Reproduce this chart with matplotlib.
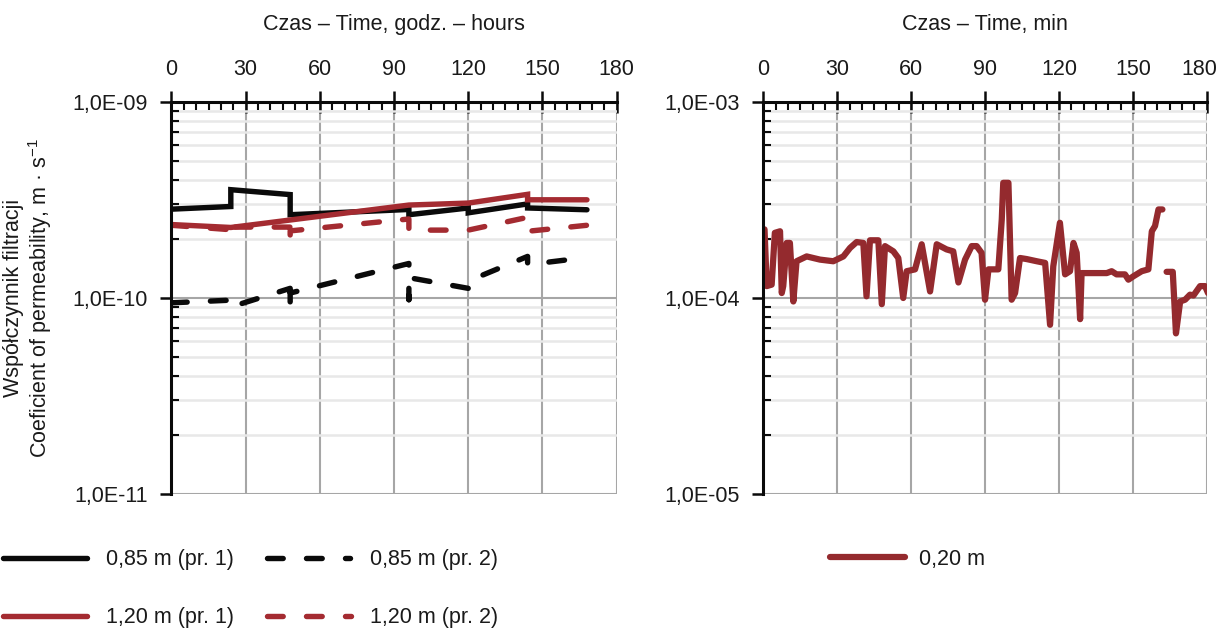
import matplotlib

matplotlib.use("Agg")
import matplotlib.pyplot as plt
import numpy as np
from matplotlib.ticker import FuncFormatter, LogLocator, MultipleLocator, NullFormatter
from matplotlib.transforms import ScaledTranslation

plt.rcParams["font.family"] = ["Liberation Sans", "DejaVu Sans"]
plt.rcParams["mathtext.default"] = "regular"

# --- left chart: permeability vs time in hours ---
hours_085_1 = [0, 24, 24, 48, 48, 96, 96, 120, 120, 144, 144, 168]
k_085_1 = [2.84e-10, 2.93e-10, 3.57e-10, 3.37e-10, 2.66e-10, 2.83e-10,
           2.66e-10, 2.88e-10, 2.72e-10, 3.02e-10, 2.88e-10, 2.82e-10]

hours_085_2 = [0, 24, 24, 48, 48, 48, 96, 96, 96, 120, 120, 144, 144, 168]
k_085_2 = [9.45e-11, 9.75e-11, 9.0e-11, 1.12e-10, 8.8e-11, 1.06e-10, 1.5e-10,
           9.8e-11, 1.27e-10, 1.12e-10, 1.22e-10, 1.63e-10, 1.48e-10, 1.61e-10]

hours_120_1 = [0, 24, 96, 120, 144, 144, 168]
k_120_1 = [2.37e-10, 2.29e-10, 2.98e-10, 3.05e-10, 3.38e-10, 3.17e-10, 3.17e-10]

hours_120_2 = [0, 24, 24, 24, 48, 48, 48, 48, 96, 96, 120, 144, 144, 168]
k_120_2 = [2.35e-10, 2.23e-10, 2.46e-10, 2.3e-10, 2.3e-10, 2.47e-10, 2.06e-10,
           2.2e-10, 2.53e-10, 2.22e-10, 2.22e-10, 2.58e-10, 2.19e-10, 2.35e-10]

# --- right chart: permeability vs time in minutes (0,20 m) ---
min_020 = [0.5, 1.4, 3.4, 4.7, 6.8, 7.5, 8.1, 9.5, 10.8, 12.2, 13.5, 17.6, 23.0,
           28.4, 32.5, 35.2, 37.9, 40.6, 41.9, 43.3, 46.7, 48.1, 49.4, 52.8,
           54.8, 56.8, 58.2, 61.6, 64.3, 67.7, 70.4, 74.4, 77.1, 79.2, 81.9,
           84.6, 86.6, 88.6, 90.0, 91.4, 95.4, 96.8, 97.4, 99.5, 100.8, 102.2,
           104.2, 106.9, 111.0, 114.4, 116.4, 117.7, 120.4, 122.5, 124.5, 125.9,
           127.2, 128.6, 129.2, 131.3, 139.4, 141.4, 143.4, 146.8, 148.2, 150.2,
           153.6, 156.3, 157.7, 159.0, 160.4, 162.0, np.nan, 163.7, 166.2, 167.5,
           169.2, 171.2, 173.2, 174.6, 177.3, 179.3, 180.5]
k_020 = [2.24, 1.15, 1.17, 2.15, 2.19, 1.06, 1.15, 1.91, 1.91, 0.96, 1.54, 1.63,
         1.57, 1.54, 1.63, 1.80, 1.93, 1.91, 1.02, 1.97, 1.97, 0.93, 1.84, 1.73,
         1.60, 1.00, 1.37, 1.40, 1.88, 1.08, 1.88, 1.77, 1.73, 1.20, 1.57, 1.84,
         1.84, 1.70, 0.98, 1.40, 1.40, 2.52, 3.87, 3.87, 0.98, 1.06, 1.60, 1.58,
         1.54, 1.51, 0.73, 1.45, 2.42, 1.32, 1.37, 1.91, 1.70, 0.78, 1.34, 1.34,
         1.34, 1.37, 1.32, 1.32, 1.24, 1.29, 1.37, 1.40, 2.19, 2.33, 2.83, 2.83,
         np.nan, 1.36, 1.36, 0.66, 0.96, 0.98, 1.04, 1.03, 1.15, 1.15, 1.06]
k_020 = [v * 1e-4 for v in k_020]

x_ticks = list(range(0, 181, 30))

BLACK = "#0a0a0a"
RED = "#a42b31"
RED_DARK = "#942a2e"
TXT = "#1a1a1a"
FS = 15.5


def sci_label(val, pos):
    e = int(round(np.log10(val)))
    return f"1,0E-{abs(e):02d}"


def style_axis(ax, ymin, ymax, xlabel):
    ax.set_yscale("log")
    ax.set_ylim(ymin, ymax)
    ax.set_xlim(0, 180)
    ax.xaxis.tick_top()
    ax.xaxis.set_label_position("top")
    ax.set_xticks(x_ticks)
    ax.xaxis.set_minor_locator(MultipleLocator(5))
    ax.yaxis.set_major_locator(LogLocator(base=10))
    ax.yaxis.set_minor_locator(LogLocator(base=10, subs=np.arange(2, 10)))
    ax.yaxis.set_major_formatter(FuncFormatter(sci_label))
    ax.yaxis.set_minor_formatter(NullFormatter())
    ax.tick_params(axis="x", which="major", direction="inout", length=16,
                   width=1.8, pad=8, labelsize=FS, colors=BLACK, labelcolor=TXT)
    ax.tick_params(axis="x", which="minor", direction="in", length=5.5,
                   width=1.5, colors=BLACK)
    ax.tick_params(axis="y", which="major", direction="out", length=8,
                   width=1.8, pad=9, labelsize=FS, colors=BLACK, labelcolor=TXT)
    ax.tick_params(axis="y", which="minor", direction="in", length=6,
                   width=1.5, colors=BLACK)
    ax.grid(True, which="major", axis="both", color="#a6a6a6", lw=1.5)
    ax.grid(True, which="minor", axis="y", color="#e8e8e8", lw=1.8)
    ax.set_axisbelow(True)
    for side in ("right", "bottom"):
        ax.spines[side].set_visible(False)
    for side in ("left", "top"):
        ax.spines[side].set_linewidth(2.2)
        ax.spines[side].set_color(BLACK)
    ax.set_xlabel(xlabel, fontsize=FS, color=TXT, labelpad=21)


fig = plt.figure(figsize=(12.16, 6.36), dpi=100)
ax1 = fig.add_axes([0.1410, 0.2233, 0.5071 - 0.1410, 0.8396 - 0.2233])
ax2 = fig.add_axes([0.6277, 0.2233, 0.9924 - 0.6277, 0.8396 - 0.2233])

lw = 3.9
dash = (0, (2.9, 4.3))
common = dict(solid_capstyle="round", dash_capstyle="round",
              solid_joinstyle="miter", clip_on=True)

l1, = ax1.plot(hours_085_1, k_085_1, color=BLACK, lw=lw, label="0,85 m (pr. 1)", **common)
l2, = ax1.plot(hours_085_2, k_085_2, color=BLACK, lw=lw, ls=dash, label="0,85 m (pr. 2)", **common)
l3, = ax1.plot(hours_120_1, k_120_1, color=RED, lw=lw, label="1,20 m (pr. 1)", **common)
l4, = ax1.plot(hours_120_2, k_120_2, color=RED, lw=lw, ls=dash, label="1,20 m (pr. 2)", **common)

style_axis(ax1, 1e-11, 1e-9, "Czas – Time, godz. – hours")
ax1.set_ylabel("Współczynnik filtracji\nCoeficient of permeability, m · s$^{-1}$",
               fontsize=FS, color=TXT, labelpad=13, linespacing=1.1)

l5, = ax2.plot(min_020, k_020, color=RED_DARK, lw=4.5, label="0,20 m",
               solid_capstyle="round", solid_joinstyle="round")
style_axis(ax2, 1e-5, 1e-3, "Czas – Time, min")

# keep the last top label of the right chart inside the figure
last = ax2.get_xticklabels()[-1]
last.set_transform(last.get_transform() + ScaledTranslation(-0.07, 0, fig.dpi_scale_trans))

# legend rows are drawn as two single-row legends so each row sits where the reference has it
row1 = fig.legend([l1, l2], [l1.get_label(), l2.get_label()],
                  ncol=2, loc="center left", bbox_to_anchor=(3 / 1216, 1 - 560 / 636),
                  frameon=False, fontsize=FS, handlelength=3.9, handletextpad=0.9,
                  columnspacing=1.5, borderpad=0, borderaxespad=0, labelcolor=TXT)
row2 = fig.legend([l3, l4], [l3.get_label(), l4.get_label()],
                  ncol=2, loc="center left", bbox_to_anchor=(3 / 1216, 1 - 618 / 636),
                  frameon=False, fontsize=FS, handlelength=3.9, handletextpad=0.9,
                  columnspacing=1.5, borderpad=0, borderaxespad=0, labelcolor=TXT)
fig.legend([l5], ["0,20 m"], loc="upper left",
           bbox_to_anchor=(830 / 1216, 1 - 549 / 636), frameon=False,
           fontsize=FS, handlelength=3.5, handletextpad=0.65, borderpad=0,
           borderaxespad=0, labelcolor=TXT)

fig.savefig("out.png", dpi=100)
plt.close(fig)
